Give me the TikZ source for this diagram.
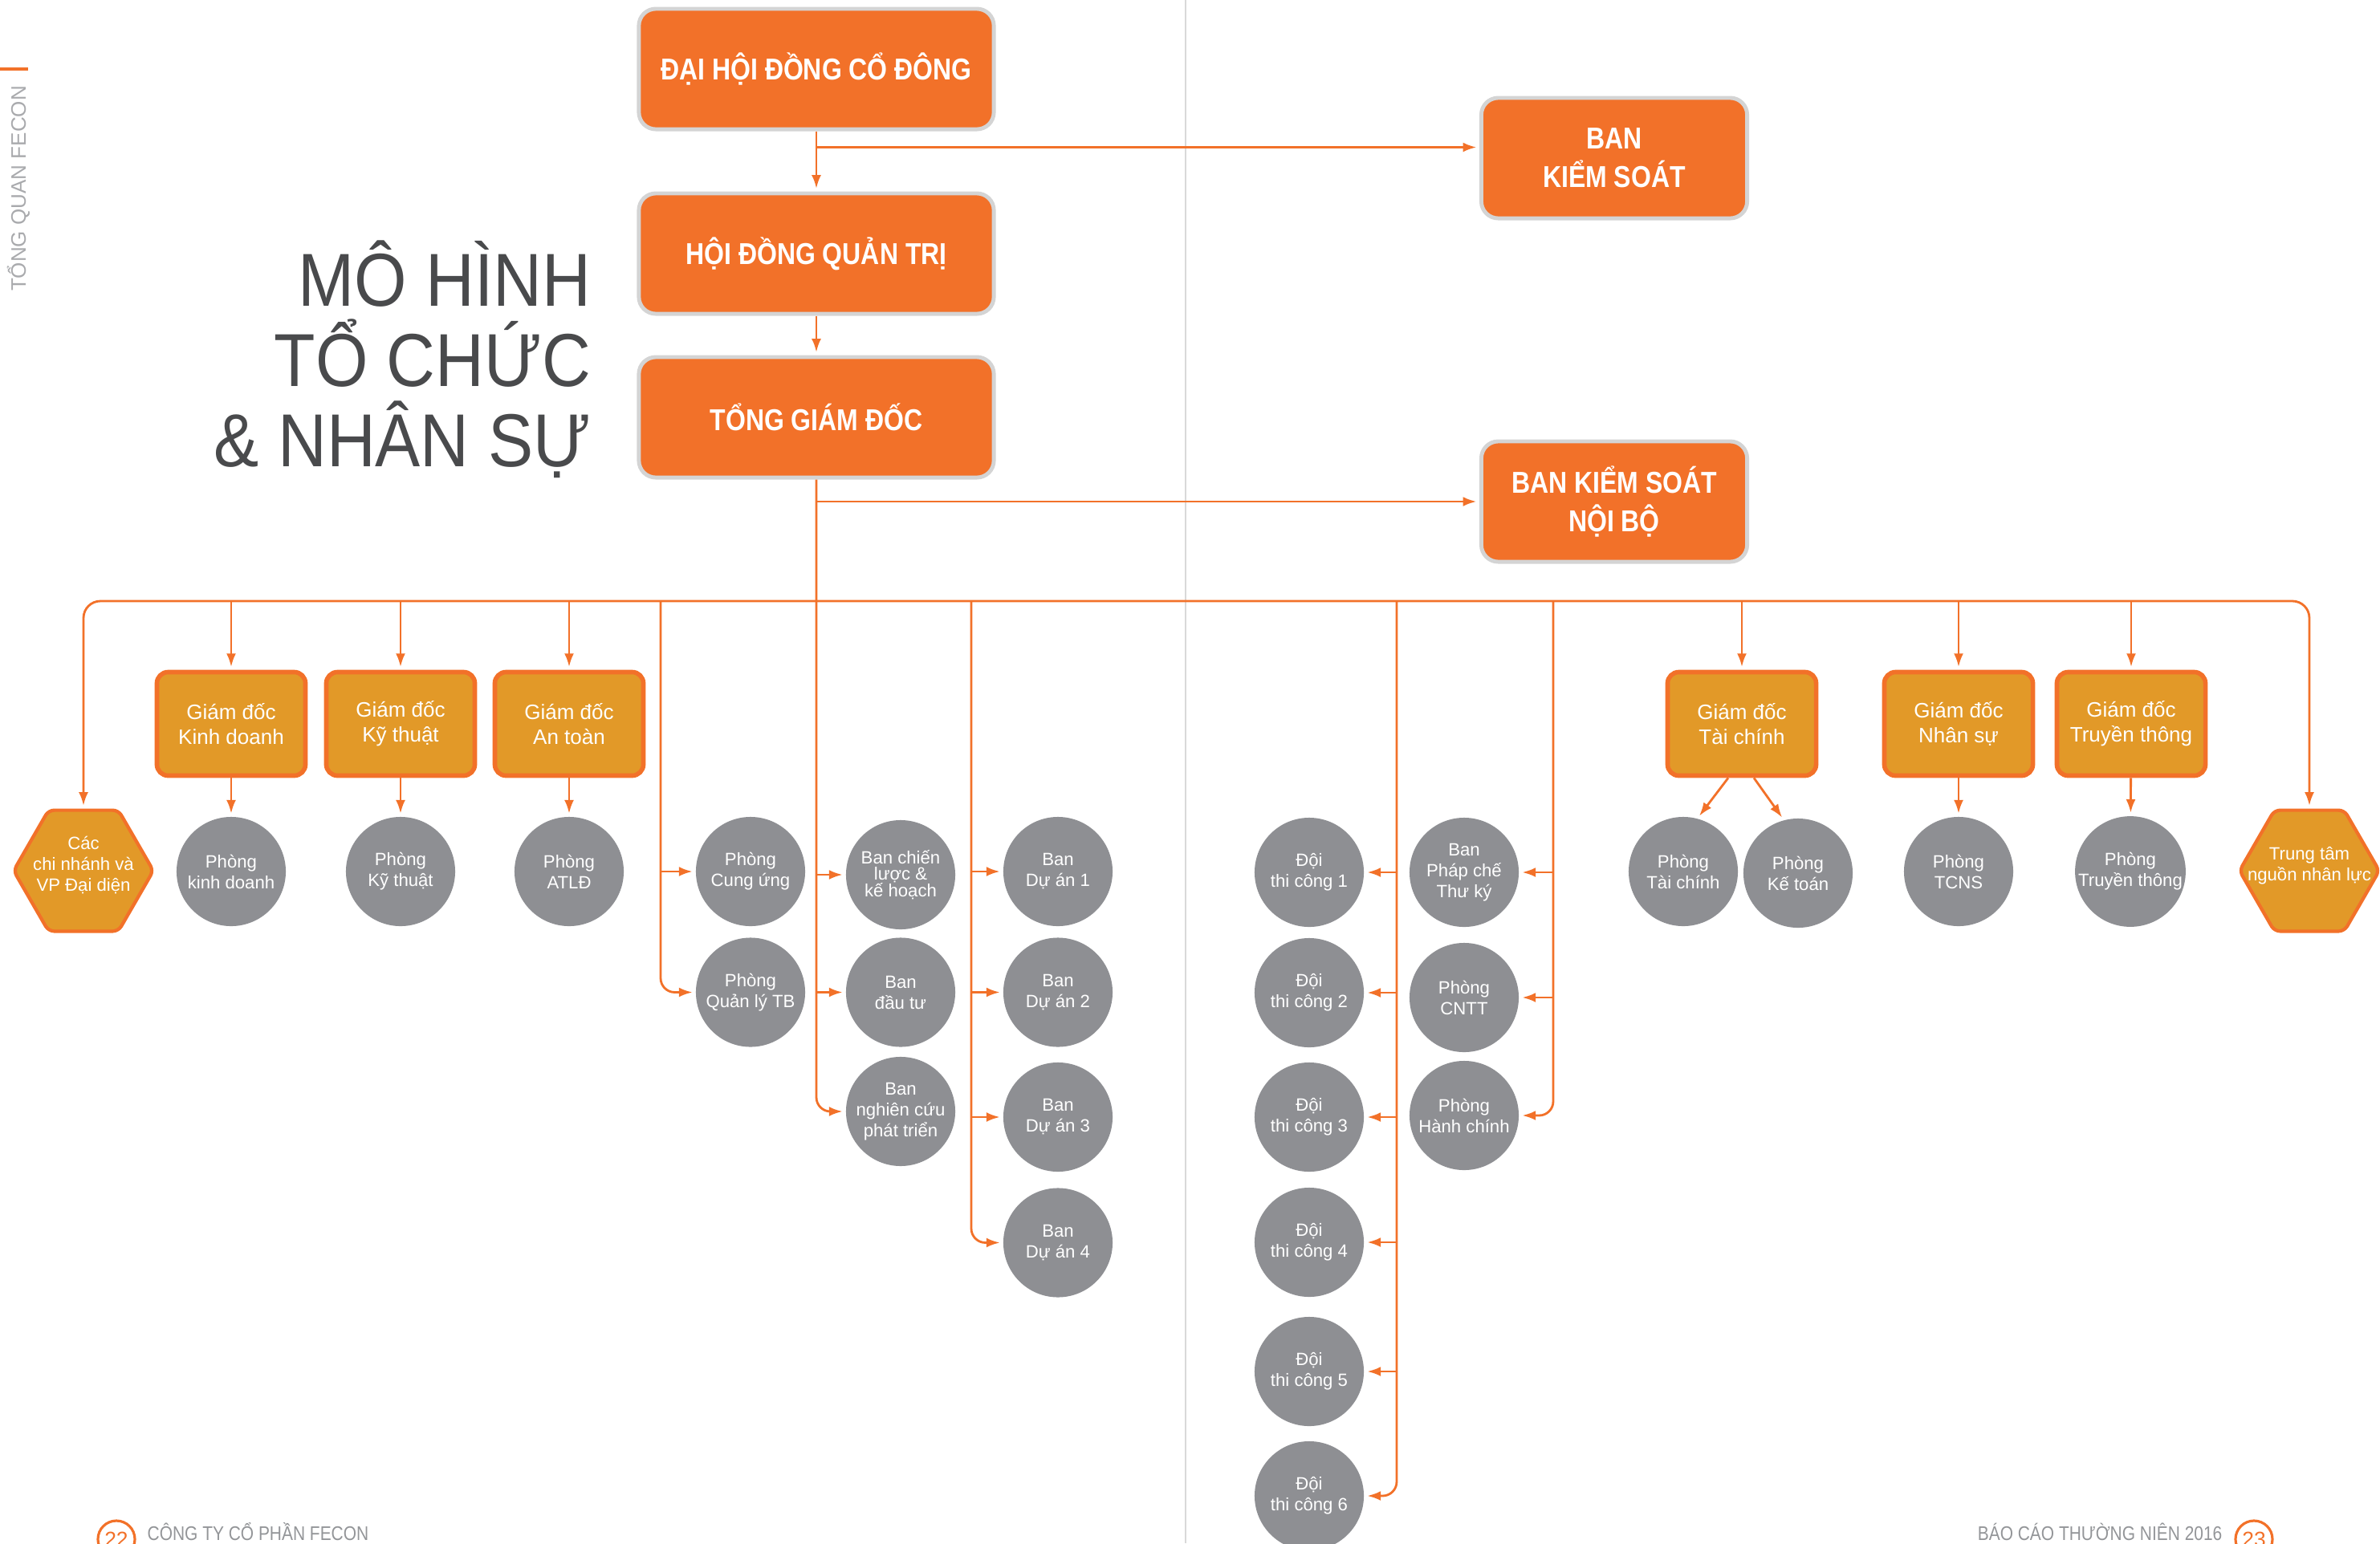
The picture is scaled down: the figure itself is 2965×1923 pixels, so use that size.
\documentclass[tikz,border=0pt]{standalone}
\usepackage{fontspec}
\setmainfont{Liberation Sans}
\newfontfamily\condfont{Liberation Sans}[FakeStretch=0.85]
\newfontfamily\titlefont{Liberation Sans}[FakeStretch=0.9]
\usetikzlibrary{arrows.meta,positioning,shapes.geometric,calc}
\definecolor{feorange}{RGB}{242,113,41}
\definecolor{feamber}{RGB}{226,153,40}
\definecolor{fegray}{RGB}{142,143,147}
\definecolor{feframe}{RGB}{212,212,212}
\definecolor{fedark}{RGB}{73,74,76}
\definecolor{fefoot}{RGB}{147,149,152}
\definecolor{fesep}{RGB}{217,217,217}
% text that must not widen the hexagon
\newcommand\hubtext[1]{\makebox[0pt]{\smash{\begin{tabular}{@{}c@{}}#1\end{tabular}}}}

\begin{document}
\begin{tikzpicture}[
  x=0.01cm, y=-0.01cm,
  conn/.style={draw=feorange, line width=0.8pt},
  arr/.style={conn, -{Latex[length=4.8pt,width=3.4pt]}, shorten >=1pt},
  board/.style={rectangle, rounded corners=6pt, fill=feorange, draw=feframe, line width=1.4pt,
                text=white, align=center, font=\condfont\bfseries\fontsize{10.7}{13.7}\selectfont,
                minimum width=4.42cm, minimum height=1.50cm},
  director/.style={rectangle, rounded corners=4pt, fill=feamber, draw=feorange, line width=1.6pt,
                text=white, align=center, font=\fontsize{7.4}{8.8}\selectfont,
                minimum width=1.85cm, minimum height=1.29cm},
  dept/.style={circle, fill=fegray, minimum size=1.36cm, inner sep=0pt, text=white, align=center,
                font=\fontsize{6.3}{7.4}\selectfont},
  hub/.style={regular polygon, regular polygon sides=6, minimum size=1.74cm, inner sep=0pt,
                fill=feamber, draw=feorange, line width=1.2pt, rounded corners=2pt,
                text=white, font=\fontsize{6.3}{7.4}\selectfont},
  pageno/.style={circle, draw=feorange, line width=0.9pt, minimum size=0.46cm, inner sep=0pt,
                text=feorange, font=\fontsize{7.5}{8}\selectfont},
  foot/.style={text=fefoot, inner sep=0pt, font=\condfont\fontsize{7}{8}\selectfont}
]
\useasboundingbox (0,0) rectangle (2965,1923);
\clip (0,0) rectangle (2965,1923);
% ---- page furniture ----
\draw[fesep, line width=0.6pt] (1477,0) -- (1477,1923);
\fill[feorange] (0,84) rectangle (35,88);
\node[rotate=90, text=fefoot!80, font=\fontsize{7.4}{8}\selectfont] (side) at (23,235) {TỔNG QUAN FECON};
\node[anchor=north east, inner sep=0pt, align=right, text=fedark,
      font=\titlefont\fontsize{26.6}{28.5}\selectfont] (title) at (737,299)
  {MÔ HÌNH\\TỔ CHỨC\\\& NHÂN SỰ};
\node[pageno] (p22) at (145,1918) {22};
\node[foot, anchor=base west] (footl) at (183,1919) {CÔNG TY CỔ PHẦN FECON};
\node[pageno] (p23) at (2808,1918) {23};
\node[foot, anchor=base east] (footr) at (2769,1919) {BÁO CÁO THƯỜNG NIÊN 2016};
% ---- governing bodies ----
\node[board] (dhcd) at (1017,86) {ĐẠI HỘI ĐỒNG CỔ ĐÔNG};
\node[board] (hdqt) at (1017,316) {HỘI ĐỒNG QUẢN TRỊ};
\node[board] (tgd) at (1017,520) {TỔNG GIÁM ĐỐC};
\node[board, minimum width=3.31cm] (bks) at (2011,197) {BAN\\KIỂM SOÁT};
\node[board, minimum width=3.31cm] (bksnb) at (2011,625) {BAN KIỂM SOÁT\\NỘI BỘ};
\draw[arr] (dhcd) -- (hdqt);
\draw[arr] (hdqt) -- (tgd);
\coordinate (jbks) at ($(dhcd.south)+(0,20)$);
\draw[arr] (jbks) -- (jbks -| bks.west);
\draw[arr] (tgd.south |- bksnb.west) -- (bksnb.west);
% ---- directors ----
\node[director] (gdkd) at (288,902) {Giám đốc\\Kinh doanh};
\node[director] (gdkt) at (499,902) {Giám đốc\\Kỹ thuật};
\node[director] (gdat) at (709,902) {Giám đốc\\An toàn};
\node[director] (gdtc) at (2170,902) {Giám đốc\\Tài chính};
\node[director] (gdns) at (2440,902) {Giám đốc\\Nhân sự};
\node[director] (gdtt) at (2655,902) {Giám đốc\\Truyền thông};
\node[hub] (cnvp) at (104,1085) {\hubtext{Các\\chi nhánh và\\VP Đại diện}};
\node[hub] (ttnl) at (2877,1085) {\hubtext{Trung tâm\\nguồn nhân lực}};
% ---- departments ----
\node[dept] (pkd) at (288,1086) {Phòng\\kinh doanh};
\node[dept] (pkthuat) at (499,1086) {Phòng\\Kỹ thuật};
\node[dept] (patld) at (709,1086) {Phòng\\ATLĐ};
\node[dept] (pcu) at (935,1086) {Phòng\\Cung ứng};
\node[dept, below=0.13cm of pcu] (pqltb) {Phòng\\Quản lý TB};
\node[dept, font=\fontsize{6.3}{5.9}\selectfont] (bcl) at (1122,1090) {Ban chiến\\lược \&\\kế hoạch};
\node[dept, below=0.09cm of bcl] (bdt) {Ban\\đầu tư};
\node[dept, below=0.11cm of bdt] (bnc) {Ban\\nghiên cứu\\phát triển};
\node[dept] (bda1) at (1318,1086) {Ban\\Dự án 1};
\node[dept, below=0.13cm of bda1] (bda2) {Ban\\Dự án 2};
\node[dept, below=0.18cm of bda2] (bda3) {Ban\\Dự án 3};
\node[dept, below=0.19cm of bda3] (bda4) {Ban\\Dự án 4};
\node[dept] (dtc1) at (1631,1087) {Đội\\thi công 1};
\node[dept] (dtc2) at (1631,1237) {Đội\\thi công 2};
\node[dept] (dtc3) at (1631,1392) {Đội\\thi công 3};
\node[dept] (dtc4) at (1631,1548) {Đội\\thi công 4};
\node[dept] (dtc5) at (1631,1709) {Đội\\thi công 5};
\node[dept] (dtc6) at (1631,1864) {Đội\\thi công 6};
\node[dept] (bpc) at (1824,1087) {Ban\\Pháp chế\\Thư ký};
\node[dept] (pcntt) at (1824,1243) {Phòng\\CNTT};
\node[dept] (phc) at (1824,1390) {Phòng\\Hành chính};
\node[dept] (ptc) at (2097,1086) {Phòng\\Tài chính};
\node[dept] (pkt) at (2240,1088) {Phòng\\Kế toán};
\node[dept] (ptcns) at (2440,1086) {Phòng\\TCNS};
\node[dept] (ptt) at (2654,1086) {Phòng\\Truyền thông};
% ---- bus and branches ----
\coordinate (bus) at (1017,749);
\coordinate (colA) at (823,749);
\coordinate (colC) at (1210,749);
\coordinate (colD) at (1740,749);
\coordinate (colE) at (1935,749);
\draw[arr, rounded corners=6pt] (bus) -| (cnvp.north);
\draw[arr, rounded corners=6pt] (bus) -| (ttnl.north);
\foreach \g in {gdkd,gdkt,gdat,gdtc,gdns,gdtt}
  \draw[arr] (\g.north |- bus) -- (\g.north);
\draw[arr] (gdkd) -- (pkd);
\draw[arr] (gdkt) -- (pkthuat);
\draw[arr] (gdat) -- (patld);
\draw[arr] ([xshift=-0.17cm]gdtc.south) -- (ptc.75);
\draw[arr] ([xshift=0.15cm]gdtc.south) -- (pkt.105);
\draw[arr] (gdns) -- (ptcns);
\draw[arr] (gdtt) -- (ptt);
\draw[arr] (colA |- pcu.west) -- (pcu.west);
\draw[arr, rounded corners=5pt] (colA) |- (pqltb.west);
\draw[arr] (tgd.south |- bcl.west) -- (bcl.west);
\draw[arr] (tgd.south |- bdt.west) -- (bdt.west);
\draw[arr, rounded corners=5pt] (tgd.south) |- (bnc.west);
\foreach \d in {bda1,bda2,bda3}
  \draw[arr] (colC |- \d.west) -- (\d.west);
\draw[arr, rounded corners=5pt] (colC) |- (bda4.west);
\foreach \i in {1,...,5}
  \draw[arr] (colD |- dtc\i.east) -- (dtc\i.east);
\draw[arr, rounded corners=5pt] (colD) |- (dtc6.east);
\draw[arr] (colE |- bpc.east) -- (bpc.east);
\draw[arr] (colE |- pcntt.east) -- (pcntt.east);
\draw[arr, rounded corners=5pt] (colE) |- (phc.east);
\end{tikzpicture}
\end{document}
